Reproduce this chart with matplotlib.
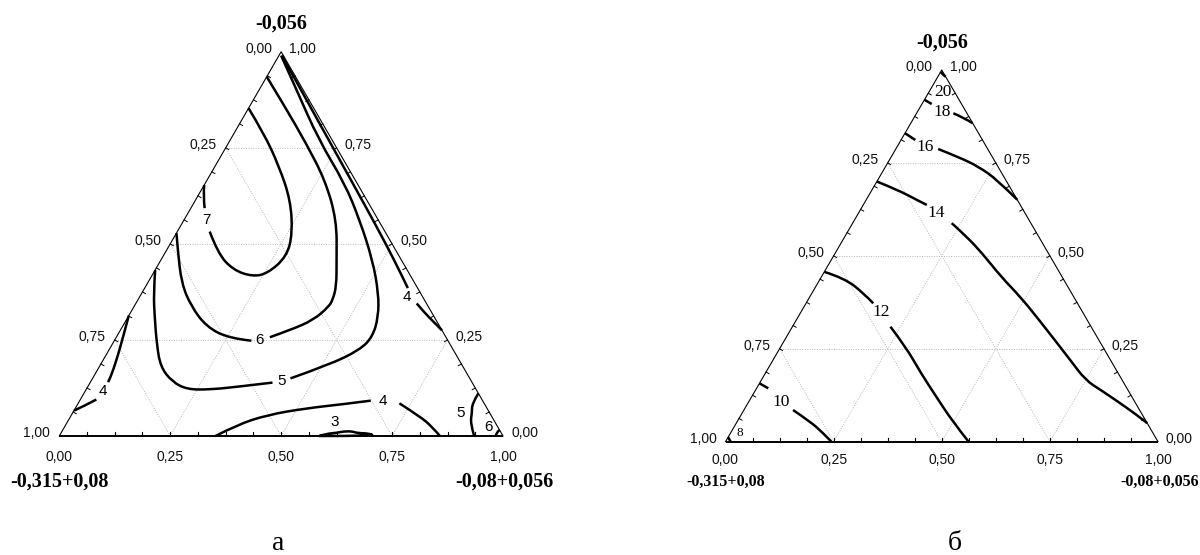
import numpy as np
import matplotlib
matplotlib.use("Agg")
import matplotlib.pyplot as plt
from matplotlib.path import Path
from matplotlib.patches import PathPatch

SQ = np.sqrt(3) / 2

# every point is (value on bottom axis, value on right axis)

# ---- chart "а"
a_c7 = [[(0.0, 0.853), (0.067, 0.788), (0.145, 0.701), (0.214, 0.614), (0.262, 0.527),
         (0.279, 0.467), (0.258, 0.423), (0.228, 0.415), (0.176, 0.432), (0.120, 0.475),
         (0.073, 0.532)],
        [(0.031, 0.593), (0.012, 0.625), (0.0, 0.653)]]
a_c6 = [[(0.0, 0.935), (0.080, 0.857), (0.175, 0.762), (0.266, 0.666), (0.344, 0.562),
         (0.396, 0.458), (0.430, 0.389), (0.439, 0.354), (0.439, 0.337), (0.422, 0.302),
         (0.383, 0.276), (0.346, 0.257)],
        [(0.309, 0.248), (0.256, 0.254), (0.190, 0.284), (0.129, 0.337), (0.077, 0.397),
         (0.025, 0.484), (0.0, 0.528)]]
a_c5 = [[(0.005, 0.990), (0.085, 0.900), (0.200, 0.770), (0.314, 0.658), (0.396, 0.562),
         (0.477, 0.458), (0.534, 0.371), (0.564, 0.310), (0.577, 0.258), (0.565, 0.224),
         (0.515, 0.185), (0.446, 0.150)],
        [(0.411, 0.139), (0.337, 0.128), (0.280, 0.121), (0.228, 0.121), (0.184, 0.141),
         (0.138, 0.180), (0.099, 0.241), (0.060, 0.310), (0.027, 0.371), (0.0, 0.432)]]
a_c4_top = [[(0.007, 0.990), (0.095, 0.900), (0.193, 0.800), (0.291, 0.700), (0.389, 0.600),
             (0.486, 0.500), (0.561, 0.420), (0.593, 0.385)],
            [(0.633, 0.345), (0.664, 0.320), (0.691, 0.300), (0.725, 0.275)]]
a_c4_bottom = [[(0.352, 0.0), (0.386, 0.029), (0.442, 0.055), (0.520, 0.072), (0.600, 0.083),
                (0.656, 0.092)],
               [(0.724, 0.085), (0.789, 0.050), (0.828, 0.024), (0.858, 0.0)]]
a_c4_left = [[(0.0, 0.313), (0.017, 0.250), (0.030, 0.198), (0.039, 0.154), (0.040, 0.140)],
             [(0.036, 0.095), (0.017, 0.078), (0.0, 0.066)]]
a_c3 = [[(0.586, 0.0), (0.600, 0.006), (0.620, 0.008), (0.635, 0.012), (0.655, 0.012),
         (0.665, 0.008), (0.700, 0.006), (0.707, 0.0), (0.586, 0.0)]]
a_c5_corner = [[(0.889, 0.111), (0.888, 0.085), (0.900, 0.060), (0.910, 0.033), (0.935, 0.0)]]
a_c6_corner = [[(0.9845, 0.0155), (0.980, 0.008), (0.984, 0.0)]]
a_lines = [a_c7, a_c6, a_c5, a_c4_top, a_c4_bottom, a_c4_left, a_c3, a_c5_corner, a_c6_corner]
a_labels = ["7", "6", "5", "4", "4", "4", "3", "5", "6"]
a_label_pos = [(0.051, 0.562), (0.327, 0.250), (0.428, 0.144), (0.603, 0.362), (0.683, 0.092),
               (0.040, 0.118), (0.602, 0.037), (0.875, 0.059), (0.955, 0.024)]

# ---- chart "б"
b_c20 = [[(0.0, 0.995), (0.008, 0.988), (0.018, 0.982)]]
b_c18 = [[(0.0, 0.920), (0.0225, 0.9085)],
         [(0.085, 0.8835), (0.113, 0.8727), (0.143, 0.857)]]
b_c16 = [[(0.0, 0.830), (0.033, 0.8117)],
         [(0.098, 0.7875), (0.158, 0.765), (0.215, 0.740), (0.277, 0.704), (0.349, 0.651)]]
b_c14 = [[(0.0, 0.700), (0.0605, 0.677), (0.118, 0.650), (0.147, 0.637)],
         [(0.229, 0.588), (0.282, 0.5515), (0.340, 0.507), (0.415, 0.444), (0.4865, 0.390),
          (0.562, 0.327), (0.687, 0.220), (0.749, 0.166), (0.798, 0.139), (0.846, 0.112),
          (0.9085, 0.076), (0.950, 0.050)]]
b_c12 = [[(0.0, 0.457), (0.0555, 0.4396), (0.120, 0.3992), (0.1555, 0.3723)],
         [(0.2266, 0.3094), (0.2888, 0.2556), (0.360, 0.184), (0.4268, 0.1211),
          (0.4934, 0.0584), (0.562, 0.0)]]
b_c10 = [[(0.0, 0.157), (0.027, 0.1437)],
         [(0.1135, 0.0853), (0.169, 0.0538), (0.209, 0.0269), (0.245, 0.0)]]
b_c8 = [[(0.0, 0.012), (0.006, 0.006), (0.012, 0.0)]]
b_lines = [b_c20, b_c18, b_c16, b_c14, b_c12, b_c10, b_c8]
b_labels = ["20", "18", "16", "14", "12", "10", "8"]
b_label_pos = [(0.032, 0.942), (0.0568, 0.8878), (0.064, 0.794), (0.18, 0.615),
               (0.1846, 0.3497), (0.0758, 0.1076), (0.022, 0.0226)]
b_label_size = [12.5, 12.5, 12.5, 12.5, 12.5, 12.5, 9.5]

tick_values = [0.0, 0.25, 0.5, 0.75, 1.0]
corner_left = "-0,315+0,08"
corner_right = "-0,08+0,056"
corner_top = "-0,056"


def to_xy(b, t):
    b = np.asarray(b, dtype=float)
    t = np.asarray(t, dtype=float)
    return b + t / 2, t * SQ


def fmt(v):
    return f"{v:.2f}".replace(".", ",")


PX = 0.72  # points per pixel at 100 dpi


def smooth_path(x, y):
    # quadratic bezier pieces, read points used as control points
    pts = np.column_stack([x, y])
    n = len(pts)
    if n < 3:
        return Path(pts)
    verts = [pts[0]]
    codes = [Path.MOVETO]
    for i in range(1, n - 1):
        end = pts[n - 1] if i == n - 2 else (pts[i] + pts[i + 1]) / 2
        verts += [pts[i], end]
        codes += [Path.CURVE3, Path.CURVE3]
    return Path(verts, codes)


def triangle(ax, lines, labels, label_pos, label_font, label_sizes,
             bottom_gap, corner_sizes, corner_gap, top_gap):
    # grid
    for v in [0.25, 0.5, 0.75]:
        for seg in [((0, v), (1 - v, v)), ((v, 0), (v, 1 - v)), ((1 - v, 0), (0, 1 - v))]:
            x, y = to_xy([seg[0][0], seg[1][0]], [seg[0][1], seg[1][1]])
            ax.plot(x, y, color="#b8b8b8", lw=0.7, ls=(0, (1, 1.5)), zorder=1)

    # edges
    x, y = to_xy([0, 1], [0, 0])
    ax.plot(x, y, color="black", lw=1.4, zorder=3, solid_capstyle="butt")
    x, y = to_xy([1, 0, 0], [0, 1, 0])
    ax.plot(x, y, color="black", lw=0.8, zorder=3)

    # small inward ticks
    tl = 0.008
    for i in range(1, 16):
        v = i / 16
        x, y = to_xy(v, 0)
        ax.plot([x, x], [y, y + tl], color="black", lw=0.8, zorder=3)
        x, y = to_xy(0, v)
        ax.plot([x, x + tl * SQ], [y, y - tl * 0.5], color="black", lw=0.7, zorder=3)
        x, y = to_xy(1 - v, v)
        ax.plot([x, x - tl * SQ], [y, y - tl * 0.5], color="black", lw=0.7, zorder=3)

    # tick labels
    tk = dict(fontsize=10, family="Liberation Sans", color="#111111")
    for v in tick_values:
        x, y = to_xy(v, 0)
        ax.annotate(fmt(v), (x, y), xytext=(0, -bottom_gap * PX), textcoords="offset points",
                    ha="center", va="center", **tk)
        x, y = to_xy(0, 1 - v)
        ax.annotate(fmt(v), (x, y), xytext=(-9 * PX, 3 * PX), textcoords="offset points",
                    ha="right", va="center", **tk)
        x, y = to_xy(1 - v, v)
        ax.annotate(fmt(v), (x, y), xytext=(8 * PX, 3 * PX), textcoords="offset points",
                    ha="left", va="center", **tk)

    # corner names
    bold = dict(family="Liberation Serif", fontweight="bold", ha="center", va="center")
    ax.annotate(corner_left, to_xy(0, 0), xytext=(0, -corner_gap * PX),
                textcoords="offset points", fontsize=corner_sizes[0], **bold)
    ax.annotate(corner_right, to_xy(1, 0), xytext=(1, -corner_gap * PX),
                textcoords="offset points", fontsize=corner_sizes[0], **bold)
    ax.annotate(corner_top, to_xy(0, 1), xytext=(0, top_gap * PX),
                textcoords="offset points", fontsize=corner_sizes[1], **bold)

    # contour lines
    for line in lines:
        for seg in line:
            p = np.array(seg)
            x, y = to_xy(p[:, 0], p[:, 1])
            ax.add_patch(PathPatch(smooth_path(x, y), fill=False, edgecolor="black", lw=1.8,
                                   capstyle="butt", joinstyle="round", zorder=2))
    for lab, (b, t), s in zip(labels, label_pos, label_sizes):
        x, y = to_xy(b, t)
        ax.text(x, y, lab, ha="center", va="center", fontsize=s, family=label_font, zorder=4)


fig = plt.figure(figsize=(12, 5.55), dpi=100)

# chart а: bottom-left corner at pixel (59.3, 436), side 443.7 px
ax1 = fig.add_axes([0, 0, 0.5, 1])
s1, x01, y01 = 443.7, 59.3, 436.0
ax1.set_xlim(-x01 / s1, (600 - x01) / s1)
ax1.set_ylim(-(555 - y01) / s1, y01 / s1)
ax1.axis("off")
triangle(ax1, a_lines, a_labels, a_label_pos, "Liberation Sans", [11] * len(a_labels),
         bottom_gap=21, corner_sizes=(14.5, 14.5), corner_gap=46, top_gap=28)

# chart б: bottom-left corner at pixel (725.5, 441.7)
ax2 = fig.add_axes([0.5, 0, 0.5, 1])
sx2, sy2, x02, y02 = 432.5, 429.2, 725.5, 441.7
ax2.set_xlim((600 - x02) / sx2, (1200 - x02) / sx2)
ax2.set_ylim(-(555 - y02) / sy2, y02 / sy2)
ax2.axis("off")
triangle(ax2, b_lines, b_labels, b_label_pos, "Liberation Serif", b_label_size,
         bottom_gap=18, corner_sizes=(11.5, 14.5), corner_gap=40, top_gap=27)

fig.text(278 / 1200, 1 - 544 / 555, "а", family="Liberation Serif", fontsize=20,
         ha="center", va="center")
fig.text(955 / 1200, 1 - 544 / 555, "б", family="Liberation Serif", fontsize=20,
         ha="center", va="center")

fig.savefig("out.png", dpi=100)
